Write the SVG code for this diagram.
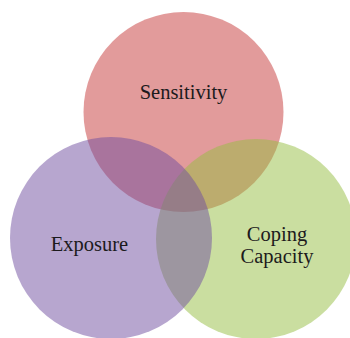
<svg xmlns="http://www.w3.org/2000/svg" width="350" height="338" viewBox="0 0 350 338">
<style>
.c{fill-opacity:0.5}
.t{font-size:20.5px;fill:#1c1a1c;text-anchor:middle}
</style>
<rect width="350" height="338" fill="#ffffff"/>
<g id="sensitivity">
<circle class="c" cx="183.5" cy="112" r="100" fill="#c53737"/>
</g>
<g id="coping-capacity">
<circle class="c" cx="256" cy="239" r="100" fill="#95bd41"/>
</g>
<g id="exposure">
<circle class="c" cx="111" cy="238" r="101" fill="#6f4d9f"/>
</g>
<g id="labels" font-family="'Liberation Serif', 'DejaVu Serif', serif">
<text class="t" x="183.5" y="98.5">Sensitivity</text>
<text class="t" x="89.5" y="251">Exposure</text>
<text class="t" x="277" y="240.5">Coping</text>
<text class="t" x="277" y="263">Capacity</text>
</g>
</svg>
